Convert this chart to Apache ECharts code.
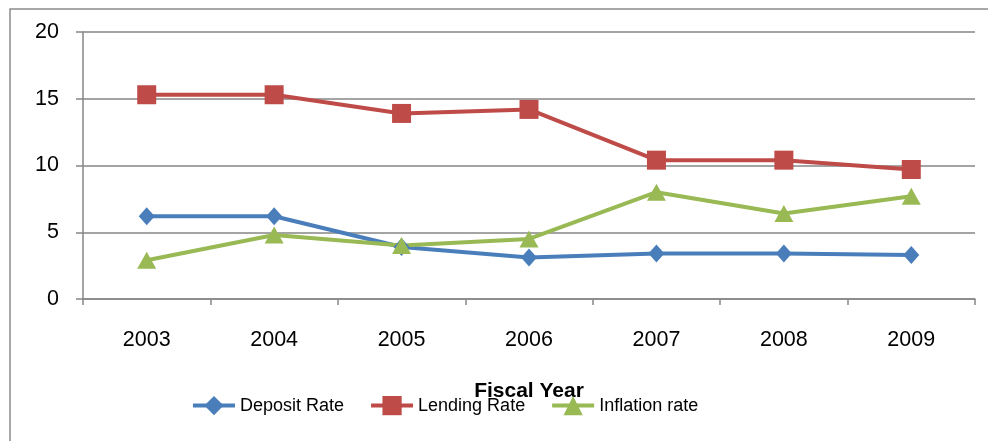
<!DOCTYPE html>
<html><head><meta charset="utf-8">
<script src="https://cdn.jsdelivr.net/npm/echarts@6/dist/echarts.min.js"></script>
<style>html,body{margin:0;padding:0;background:#fff}#c{width:988px;height:441px}</style>
</head><body><div id="c"></div>
<script>
const years = ['2003','2004','2005','2006','2007','2008','2009'];
const depositRate = [6.2, 6.2, 3.9, 3.1, 3.4, 3.4, 3.3];
const lendingRate = [15.3, 15.3, 13.9, 14.2, 10.4, 10.4, 9.7];
const inflationRate = [2.9, 4.8, 4.0, 4.5, 8.0, 6.4, 7.7];
const seriesNames = ['Deposit Rate', 'Lending Rate', 'Inflation rate'];
const xTitle = 'Fiscal Year';

const FONT = 'Liberation Sans';
const chart = echarts.init(document.getElementById('c'), null, {renderer: 'canvas'});
const mk = (name, data, color, symbol, size) => ({
  name, type: 'line', data, color,
  symbol, symbolSize: size,
  lineStyle: {width: 4, color},
  itemStyle: {color},
  z: 3
});
chart.setOption({
  animation: false,
  graphic: [{type: 'rect', shape: {x: 10, y: 9, width: 1000, height: 500},
    style: {fill: 'none', stroke: '#8c8c8c', lineWidth: 1.5}, z: -1}],
  grid: {left: 83, right: 13, top: 32, bottom: 142, containLabel: false},
  legend: {
    left: 186, top: 391, itemWidth: 42, itemHeight: 24, itemGap: 25,
    lineStyle: {width: 4},
    textStyle: {fontFamily: FONT, fontSize: 18, color: '#000'},
    data: seriesNames
  },
  xAxis: {
    type: 'category', data: years, boundaryGap: true,
    name: xTitle, nameLocation: 'middle', nameGap: 82,
    nameTextStyle: {fontFamily: FONT, fontSize: 21, fontWeight: 'bold', color: '#000'},
    axisLine: {lineStyle: {color: '#868686', width: 1.5}},
    axisTick: {show: true, length: 6, lineStyle: {color: '#868686', width: 1.5}},
    axisLabel: {fontFamily: FONT, fontSize: 21.5, color: '#000', margin: 30}
  },
  yAxis: {
    type: 'value', min: 0, max: 20, interval: 5,
    axisLine: {show: true, lineStyle: {color: '#868686', width: 1.5}},
    axisTick: {show: true, length: 7, lineStyle: {color: '#868686', width: 1.5}},
    axisLabel: {fontFamily: FONT, fontSize: 21.5, color: '#000', margin: 24},
    splitLine: {lineStyle: {color: '#868686', width: 1.5}}
  },
  series: [
    mk(seriesNames[0], depositRate, '#4a7ebb', 'diamond', [16, 18]),
    mk(seriesNames[1], lendingRate, '#be4b48', 'rect', 19),
    mk(seriesNames[2], inflationRate, '#98b954', 'triangle', [19, 17])
  ]
});
</script></body></html>
